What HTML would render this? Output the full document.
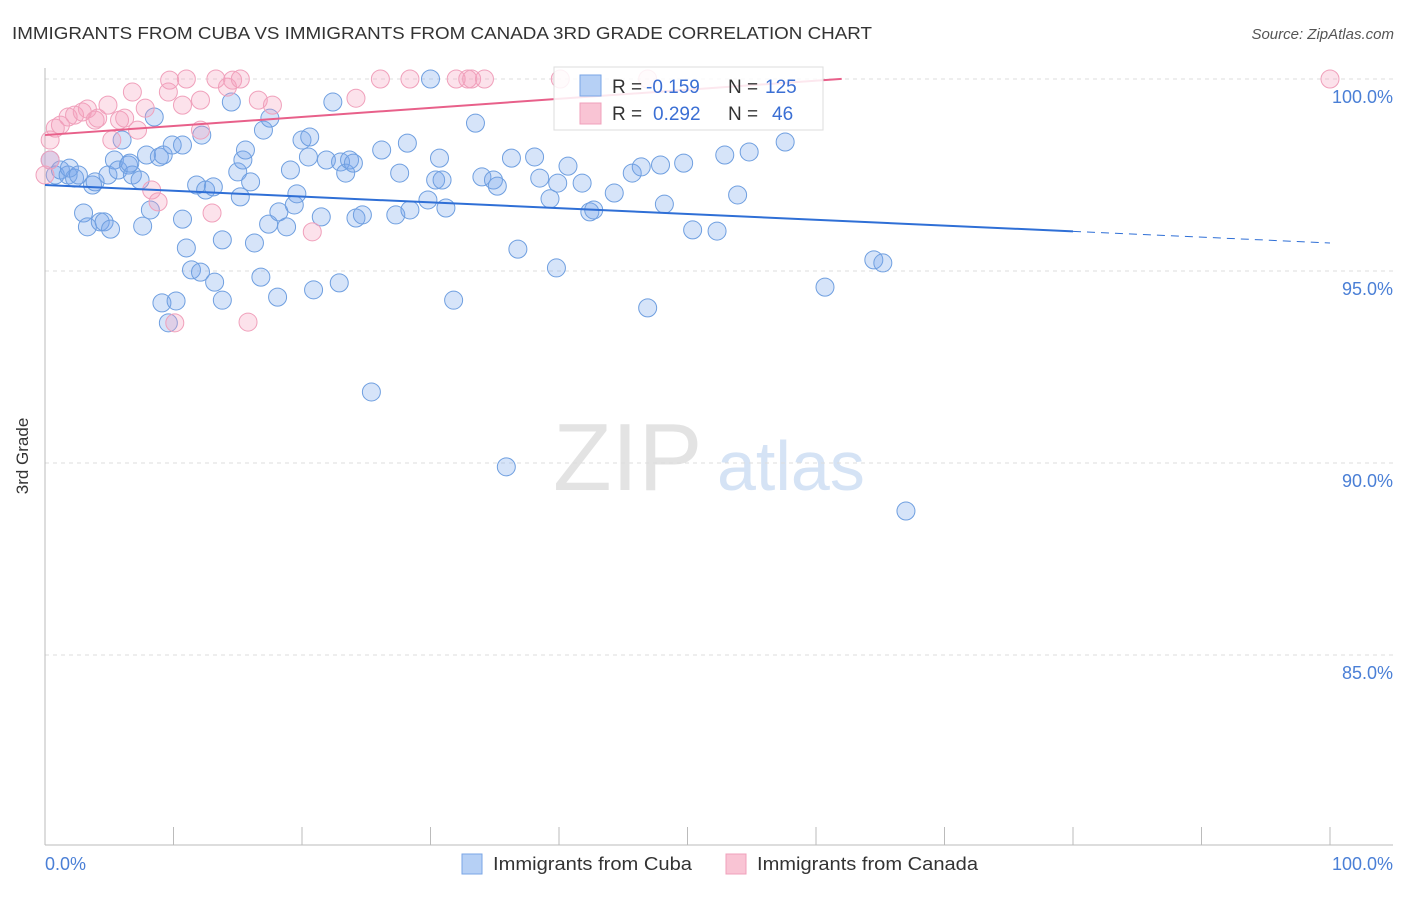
<!DOCTYPE html>
<html><head><meta charset="utf-8"><style>
body{margin:0;background:#fff;font-family:"Liberation Sans",sans-serif;}
svg text{font-family:"Liberation Sans",sans-serif;}
</style></head><body>
<svg id="chart" width="1406" height="892" xmlns="http://www.w3.org/2000/svg">
<text x="12" y="39" font-size="17.5" fill="#333" textLength="860" lengthAdjust="spacingAndGlyphs">IMMIGRANTS FROM CUBA VS IMMIGRANTS FROM CANADA 3RD GRADE CORRELATION CHART</text>
<text x="1394" y="39" font-size="15" fill="#555" font-style="italic" text-anchor="end">Source: ZipAtlas.com</text>
<g>
<text x="553" y="490" font-size="96" fill="#e3e3e3" font-family="Liberation Serif, serif">ZIP</text>
<text x="717" y="490" font-size="70" fill="#d5e3f5">atlas</text>
</g>
<g id="grid"></g>
<g id="axes"></g>
<g id="points"></g>
<g id="trends"></g>
<text x="28" y="456" font-size="17" fill="#333" text-anchor="middle" transform="rotate(-90 28 456)">3rd Grade</text>
<g>
<rect x="554" y="67" width="269" height="63" fill="rgba(255,255,255,0.85)" stroke="#ddd"/>
<rect x="580" y="75" width="21" height="21" fill="#b6d0f5" stroke="#7aa6e6"/>
<rect x="580" y="103" width="21" height="21" fill="#f9c4d4" stroke="#f0a0bb"/>
<text x="612" y="93" font-size="19" fill="#333">R = </text>
<text x="646" y="93" font-size="19" fill="#3b6fd4">-0.159</text>
<text x="728" y="93" font-size="19" fill="#333">N = </text>
<text x="765" y="93" font-size="19" fill="#3b6fd4">125</text>
<text x="612" y="120" font-size="19" fill="#333">R = </text>
<text x="653" y="120" font-size="19" fill="#3b6fd4">0.292</text>
<text x="728" y="120" font-size="19" fill="#333">N = </text>
<text x="772" y="120" font-size="19" fill="#3b6fd4">46</text>
</g>
<g>
<rect x="462" y="854" width="20" height="20" fill="#b6d0f5" stroke="#7aa6e6"/>
<text x="493" y="870" font-size="18.5" fill="#333" textLength="199" lengthAdjust="spacingAndGlyphs">Immigrants from Cuba</text>
<rect x="726" y="854" width="20" height="20" fill="#f9c4d4" stroke="#f0a0bb"/>
<text x="757" y="870" font-size="18.5" fill="#333" textLength="221" lengthAdjust="spacingAndGlyphs">Immigrants from Canada</text>
</g>
</svg>
<script>
const yTicks=[100,95,90,85];
const yTickLabels=["100.0%","95.0%","90.0%","85.0%"];
const xTickValues=[0,10,20,30,40,50,60,70,80,90,100];
const xEndLabels=["0.0%","100.0%"];
const cubaPoints=[[0.4,97.89],[0.8,97.5],[1.2,97.63],[1.8,97.5],[2.3,97.42],[1.9,97.68],[2.6,97.5],[3.7,97.24],[3.9,97.32],[3.0,96.51],[3.3,96.15],[4.3,96.28],[4.6,96.28],[5.1,96.09],[4.9,97.5],[5.4,97.89],[6.0,98.41],[5.7,97.63],[6.5,97.76],[6.8,97.5],[6.6,97.81],[7.4,97.37],[7.6,96.17],[8.2,96.59],[8.5,99.01],[7.9,98.02],[8.9,97.97],[9.2,98.02],[9.9,98.28],[10.7,98.28],[10.7,96.35],[11.0,95.6],[11.4,95.03],[12.1,94.97],[9.1,94.17],[10.2,94.22],[9.6,93.65],[11.8,97.24],[12.5,97.11],[13.1,97.19],[12.2,98.54],[13.2,94.71],[13.8,95.81],[13.8,94.24],[14.5,99.4],[15.0,97.58],[15.2,96.93],[15.4,97.89],[15.6,98.15],[16.0,97.32],[16.3,95.73],[16.8,94.84],[17.0,98.67],[17.5,98.98],[17.4,96.22],[18.1,94.32],[18.2,96.54],[18.8,96.15],[19.1,97.63],[19.4,96.72],[19.6,97.01],[20.0,98.41],[20.6,98.49],[20.5,97.97],[20.9,94.51],[21.5,96.41],[21.9,97.89],[22.4,99.4],[22.9,94.69],[23.0,97.84],[23.4,97.55],[23.7,97.89],[24.0,97.81],[24.2,96.38],[24.7,96.46],[25.4,91.85],[26.2,98.15],[27.3,96.46],[27.6,97.55],[28.2,98.33],[28.4,96.59],[29.8,96.85],[30.0,100],[30.4,97.37],[30.7,97.94],[30.9,97.37],[31.2,96.64],[31.8,94.24],[33.5,98.85],[34.0,97.45],[34.9,97.37],[35.2,97.21],[35.9,89.9],[36.3,97.94],[36.8,95.57],[38.1,97.97],[38.5,97.42],[39.3,96.88],[39.8,95.08],[39.9,97.29],[40.7,97.73],[41.8,97.29],[42.4,96.54],[42.7,96.59],[44.3,97.03],[45.7,97.55],[46.4,97.71],[46.9,94.04],[47.9,97.76],[48.2,96.74],[49.7,97.81],[50.4,96.07],[52.3,96.04],[52.9,98.02],[53.9,96.98],[54.8,98.1],[57.6,98.36],[60.7,94.58],[64.5,95.29],[65.2,95.21],[67.0,88.75]];
const canadaPoints=[[0.4,97.89],[0.8,98.72],[1.2,98.8],[1.8,99.01],[2.3,99.06],[2.9,99.14],[3.3,99.22],[3.9,98.93],[4.1,98.98],[4.9,99.32],[5.2,98.41],[5.8,98.93],[6.2,98.98],[6.8,99.66],[7.2,98.67],[7.8,99.24],[8.3,97.11],[8.8,96.8],[9.6,99.66],[9.7,99.97],[10.1,93.65],[10.7,99.32],[11.0,100],[12.1,99.45],[12.1,98.67],[13.0,96.51],[13.3,100],[14.2,99.79],[14.6,99.97],[15.2,100],[15.8,93.67],[16.6,99.45],[17.7,99.32],[20.8,96.02],[24.2,99.5],[26.1,100],[28.4,100],[32.0,100],[32.9,100],[33.2,100],[34.2,100],[40.1,100],[46.9,100],[100,100],[0,97.5],[0.4,98.41]];
const cubaTrend=[97.24,95.73];
const canadaTrend=[98.54,100.9];
const NS="http://www.w3.org/2000/svg";
const X=v=>45+v*12.85;
const Y=v=>79+(100-v)*38.4;
function mk(tag,attrs,parent){const e=document.createElementNS(NS,tag);for(const k in attrs)e.setAttribute(k,attrs[k]);parent.appendChild(e);return e;}
const grid=document.getElementById('grid'),axes=document.getElementById('axes'),pts=document.getElementById('points'),tr=document.getElementById('trends');
yTicks.forEach((t,i)=>{
 const l=mk('line',{x1:45,x2:1393,y1:Y(t),y2:Y(t),stroke:'#ddd','stroke-dasharray':'4,4'},grid);
 
 
 const tx=mk('text',{x:1393,y:Y(t)+24,'font-size':18,fill:'#4a7fd6','text-anchor':'end'},axes);
 tx.textContent=yTickLabels[i];
 
 
});
const ya=mk('line',{x1:45,x2:45,y1:68,y2:845,stroke:'#bbb'},axes);


const xa=mk('line',{x1:45,x2:1393,y1:845,y2:845,stroke:'#bbb'},axes);


xTickValues.forEach(v=>{
 const t=mk('line',{x1:X(v),x2:X(v),y1:827,y2:845,stroke:'#bbb'},axes);
 
 
});
const xl0=mk('text',{x:45,y:870,'font-size':18,fill:'#4a7fd6'},axes);
xl0.textContent=xEndLabels[0];


const xl1=mk('text',{x:1393,y:870,'font-size':18,fill:'#4a7fd6','text-anchor':'end'},axes);
xl1.textContent=xEndLabels[1];


cubaPoints.forEach(p=>{
 const c=mk('circle',{cx:X(p[0]),cy:Y(p[1]),r:9,fill:'rgba(120,165,235,0.3)',stroke:'#6f9fe0','stroke-width':1},pts);
 
 
});
canadaPoints.forEach(p=>{
 const c=mk('circle',{cx:X(p[0]),cy:Y(p[1]),r:9,fill:'rgba(245,160,190,0.3)',stroke:'#f0a0bb','stroke-width':1},pts);
 
 
});
const cy=x=>cubaTrend[0]+(cubaTrend[1]-cubaTrend[0])*x/100;
const b1=mk('line',{x1:X(0),y1:Y(cy(0)),x2:X(80),y2:Y(cy(80)),stroke:'#2f6fd6','stroke-width':2},tr);


const b2=mk('line',{x1:X(80),y1:Y(cy(80)),x2:X(100),y2:Y(cy(100)),stroke:'#2f6fd6','stroke-width':1,'stroke-dasharray':'8,6'},tr);


const py=x=>canadaTrend[0]+(canadaTrend[1]-canadaTrend[0])*x/100;
const pe=62;
const p1=mk('line',{x1:X(0),y1:Y(py(0)),x2:X(pe),y2:Y(py(pe)),stroke:'#e8608a','stroke-width':2},tr);


</script>
</body></html>
